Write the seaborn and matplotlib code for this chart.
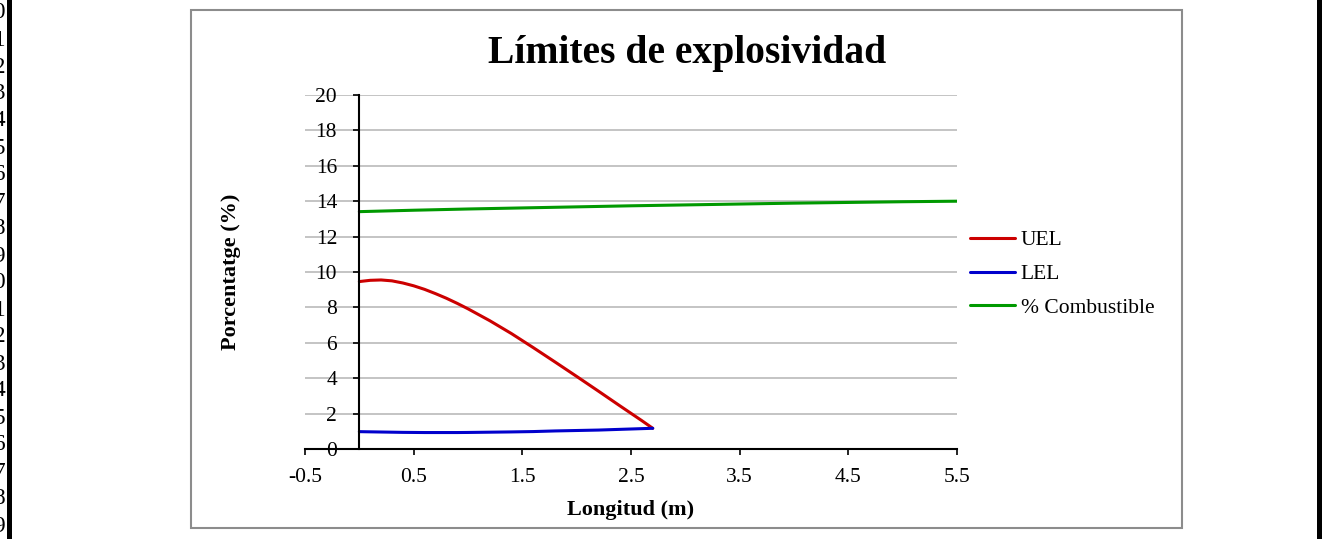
import numpy as np
import pandas as pd
import seaborn as sns
import matplotlib.pyplot as plt
from matplotlib.patches import Rectangle

# datos
long_lim = [0, 0.1, 0.2, 0.3, 0.4, 0.5, 0.6, 0.7, 0.8, 0.9, 1.0, 1.2, 1.4, 1.6, 1.8, 2.0, 2.2, 2.4, 2.6, 2.7]
uel = [9.46, 9.53, 9.55, 9.50, 9.38, 9.22, 9.02, 8.78, 8.52, 8.23, 7.92, 7.25, 6.52, 5.73, 4.92, 4.10, 3.27, 2.43, 1.60, 1.17]
lel = [0.98, 0.97, 0.96, 0.95, 0.94, 0.935, 0.93, 0.93, 0.93, 0.93, 0.935, 0.95, 0.965, 0.985, 1.02, 1.045, 1.07, 1.11, 1.15, 1.17]

long_comb = [0, 0.5, 1.0, 1.5, 2.0, 2.5, 3.0, 3.5, 4.0, 4.5, 5.0, 5.5]
combustible = [13.41, 13.49, 13.56, 13.62, 13.68, 13.74, 13.79, 13.84, 13.89, 13.93, 13.97, 14.0]

x_ticks = [-0.5, 0.5, 1.5, 2.5, 3.5, 4.5, 5.5]
y_ticks = list(range(0, 21, 2))

sns.set_style("white")
plt.rcParams['font.family'] = ['Liberation Serif', 'DejaVu Serif']
plt.rcParams['text.color'] = 'black'
plt.rcParams['xtick.color'] = 'black'
plt.rcParams['ytick.color'] = 'black'

fig = plt.figure(figsize=(13.26, 5.39), dpi=100)
W, H = 1326, 539

# marco del grafico y bordes negros de la hoja
fig.patches.append(Rectangle((191 / W, 1 - 528 / H), (1182 - 191) / W, (528 - 10) / H,
                             transform=fig.transFigure, fill=False, edgecolor='#8c8c8c', lw=1.5))
fig.patches.append(Rectangle((7 / W, 0), 5 / W, 1, transform=fig.transFigure,
                             facecolor='black', edgecolor='none', zorder=5))
fig.patches.append(Rectangle((1317 / W, 0), 5 / W, 1, transform=fig.transFigure,
                             facecolor='black', edgecolor='none', zorder=5))
for i in range(20):
    fig.text(6 / W, 1 - (13 + 27.0 * i) / H, str(30 + i), ha='right', va='center', fontsize=17)

ax = fig.add_axes([305 / W, 1 - 449 / H, 652 / W, 354 / H])

df_lim = pd.DataFrame({"x": long_lim, "UEL": uel, "LEL": lel})
df_comb = pd.DataFrame({"x": long_comb, "comb": combustible})

sns.lineplot(data=df_lim, x="x", y="UEL", ax=ax, color='#cc0000', lw=2.2, label='UEL')
sns.lineplot(data=df_lim, x="x", y="LEL", ax=ax, color='#0000cc', lw=2.2, label='LEL')
sns.lineplot(data=df_comb, x="x", y="comb", ax=ax, color='#009900', lw=2.2, label='% Combustible')

ax.set_xlim(-0.5, 5.5)
ax.set_ylim(0, 20)
ax.set_xticks(x_ticks)
ax.set_xticklabels([str(t) for t in x_ticks])
ax.set_yticks(y_ticks)
ax.grid(axis='y', color='#bfbfbf', lw=1.3)
ax.set_axisbelow(True)

for s in ['top', 'right']:
    ax.spines[s].set_visible(False)
ax.spines['left'].set_position(('data', 0))
ax.spines['left'].set_color('black')
ax.spines['bottom'].set_color('black')
ax.spines['left'].set_linewidth(1.5)
ax.spines['bottom'].set_linewidth(1.5)
ax.tick_params(axis='both', direction='out', length=4, width=1.2, color='black',
               labelsize=15.5, labelcolor='black', left=True, bottom=True)
ax.tick_params(axis='y', pad=12)
ax.tick_params(axis='x', pad=10)

ax.set_xlabel('')
ax.set_ylabel('')
fig.text(631 / W, 1 - 510 / H, 'Longitud (m)', ha='center', va='center', fontsize=16, fontweight='bold')
fig.text(231 / W, 1 - 272 / H, 'Porcentatge (%)', ha='center', va='center', rotation=90,
         fontsize=16, fontweight='bold')
fig.text(687 / W, 1 - 54 / H, 'Límites de explosividad', ha='center', va='center',
         fontsize=28.5, fontweight='bold')

ax.legend(loc='center left', bbox_to_anchor=(970 / W, 1 - 274 / H), bbox_transform=fig.transFigure,
          frameon=False, fontsize=15.5, handlelength=2.1, handletextpad=0.25, labelspacing=0.63,
          borderpad=0, borderaxespad=0)

fig.savefig('out.png', dpi=100)
